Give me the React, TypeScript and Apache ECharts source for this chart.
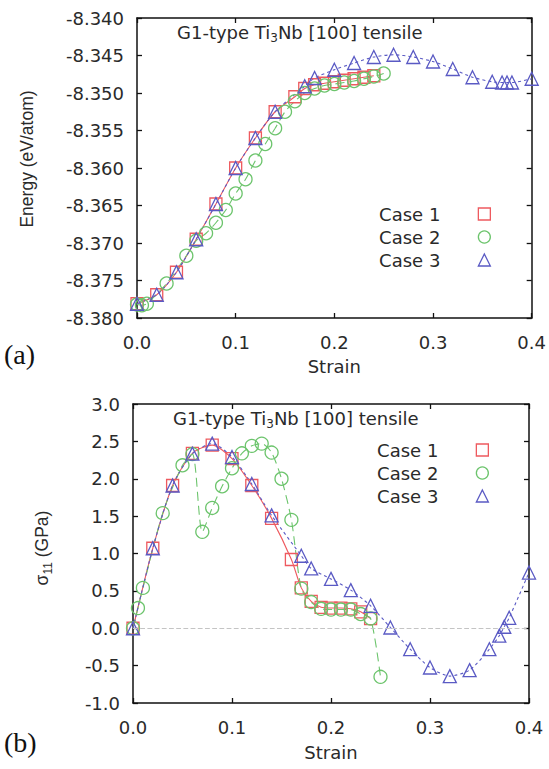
import React, { useEffect, useRef } from 'react';
import * as echarts from 'echarts';

// ---- Data ----
const strainCase1 = [0, 0.02, 0.04, 0.06, 0.08, 0.10, 0.12, 0.14, 0.16, 0.17, 0.18, 0.19, 0.20, 0.21, 0.22, 0.23, 0.24];
const energyCase1 = [-8.3781, -8.3769, -8.3739, -8.3695, -8.3648, -8.3600, -8.3560, -8.3525, -8.3505, -8.3494, -8.3489, -8.3487, -8.3485, -8.3483, -8.3481, -8.3479, -8.3477];
const stressCase1 = [0, 1.07, 1.91, 2.34, 2.45, 2.27, 1.91, 1.47, 0.92, 0.54, 0.36, 0.28, 0.27, 0.27, 0.26, 0.22, 0.13];

const strainCase2 = [0, 0.005, 0.01, 0.03, 0.05, 0.06, 0.07, 0.08, 0.09, 0.10, 0.11, 0.12, 0.13, 0.14, 0.15, 0.16, 0.17, 0.18, 0.19, 0.20, 0.21, 0.22, 0.23, 0.24, 0.25];
const energyCase2 = [-8.3782, -8.3783, -8.3781, -8.3754, -8.3717, -8.3697, -8.3687, -8.3673, -8.3656, -8.3634, -8.3615, -8.3590, -8.3568, -8.3547, -8.3525, -8.3511, -8.3500, -8.3494, -8.3490, -8.3488, -8.3486, -8.3484, -8.3481, -8.3478, -8.3474];
const stressCase2 = [0, 0.27, 0.54, 1.54, 2.18, 2.33, 1.29, 1.61, 1.90, 2.14, 2.34, 2.44, 2.47, 2.35, 2.00, 1.45, 0.53, 0.35, 0.26, 0.25, 0.25, 0.25, 0.19, 0.13, -0.65];

const strainCase3 = [0, 0.02, 0.04, 0.06, 0.08, 0.10, 0.12, 0.14, 0.17, 0.18, 0.20, 0.22, 0.24, 0.26, 0.28, 0.30, 0.32, 0.34, 0.36, 0.37, 0.375, 0.38, 0.40];
const energyCase3 = [-8.3781, -8.3769, -8.3739, -8.3695, -8.3648, -8.3600, -8.3560, -8.3525, -8.3491, -8.3480, -8.3469, -8.3460, -8.3452, -8.3449, -8.3452, -8.3458, -8.3468, -8.3479, -8.3485, -8.3486, -8.3486, -8.3486, -8.3481];
const stressCase3 = [0, 1.07, 1.91, 2.335, 2.47, 2.29, 1.93, 1.51, 0.97, 0.80, 0.66, 0.51, 0.30, 0.01, -0.28, -0.525, -0.64, -0.56, -0.28, -0.10, 0.02, 0.14, 0.745];

const caseNames = ['Case 1', 'Case 2', 'Case 3'];
const strainTicks = { min: 0, max: 0.4, interval: 0.1 };
const energyTicks = { min: -8.38, max: -8.34, interval: 0.005 };
const stressTicks = { min: -1, max: 3, interval: 0.5 };

const RED = '#ee5a5f';
const GREEN = '#6cc46c';
const BLUE = '#5a5ac4';
const FONT = 'DejaVu Sans';
const TXT = '#2a2a2a';

const pair = (xs: number[], ys: number[]) => xs.map((x, i) => [x, ys[i]]);

export default function App() {
  const ref = useRef<HTMLDivElement>(null);

  useEffect(() => {
    if (!ref.current) return;
    const chart = echarts.init(ref.current, null, { renderer: 'svg' });

    const grids = [
      { left: 137, right: 17, top: 18, height: 300 },
      { left: 133, right: 20, top: 404, height: 299 },
    ];

    const axisLine = { show: true, onZero: false, lineStyle: { color: '#111', width: 1.5 } };
    const tickIn = { show: true, inside: true, length: 5, lineStyle: { color: '#111', width: 1.3 } };

    const mainX = (gi: number, gap: number) => ({
      type: 'value', gridIndex: gi, position: 'bottom',
      ...strainTicks,
      axisLine, axisTick: tickIn, splitLine: { show: false },
      axisLabel: { margin: 15, fontFamily: FONT, fontSize: 18, color: TXT, formatter: (v: number) => v.toFixed(1) },
      name: 'Strain', nameLocation: 'middle', nameGap: gap,
      nameTextStyle: { fontFamily: FONT, fontSize: 18, color: TXT },
    });
    const mirrorX = (gi: number) => ({
      type: 'value', gridIndex: gi, position: 'top', ...strainTicks,
      axisLine, axisTick: tickIn, axisLabel: { show: false }, splitLine: { show: false },
    });
    const mainY = (gi: number, t: any, digits: number) => ({
      type: 'value', gridIndex: gi, position: 'left', ...t,
      axisLine, axisTick: tickIn, splitLine: { show: false },
      axisLabel: { margin: 13, fontFamily: FONT, fontSize: 18, color: TXT, formatter: (v: number) => v.toFixed(digits) },
    });
    const mirrorY = (gi: number, t: any) => ({
      type: 'value', gridIndex: gi, position: 'right', ...t,
      axisLine, axisTick: tickIn, axisLabel: { show: false }, splitLine: { show: false },
    });

    const mk = (name: string, data: number[][], xi: number, yi: number, color: string, symbol: string, size: number, dash: any, extra: any = {}) => ({
      type: 'line', name, data, xAxisIndex: xi, yAxisIndex: yi,
      symbol, symbolSize: size, showSymbol: true, smooth: 0.25,
      lineStyle: { color, width: 1.1, type: dash },
      itemStyle: { color: 'transparent', borderColor: color, borderWidth: 1.3 },
      emphasis: { disabled: true },
      ...extra,
    });

    const legendData = [
      { name: caseNames[0], icon: 'rect', itemStyle: { color: 'transparent', borderColor: RED, borderWidth: 1.3 } },
      { name: caseNames[1], icon: 'circle', itemStyle: { color: 'transparent', borderColor: GREEN, borderWidth: 1.3 } },
      { name: caseNames[2], icon: 'triangle', itemStyle: { color: 'transparent', borderColor: BLUE, borderWidth: 1.3 } },
    ];
    const legendBase = {
      orient: 'vertical', align: 'right', padding: 0, itemGap: 0,
      itemWidth: 12, itemHeight: 12, selectedMode: false,
      textStyle: { fontFamily: FONT, fontSize: 18, color: TXT, lineHeight: 23, padding: [0, 33, 0, 0] },
      data: legendData,
    };

    const titleRich = {
      b: { fontFamily: FONT, fontSize: 18, lineHeight: 24, fill: TXT, color: TXT },
      s: { fontFamily: FONT, fontSize: 12, lineHeight: 12, padding: [12, 0, 0, 0], fill: TXT, color: TXT },
    };
    const titleText = '{b|G1-type Ti}{s|3}{b|Nb [100] tensile}';

    chart.setOption({
      animation: false,
      grid: grids,
      xAxis: [mainX(0, 39), mirrorX(0), mainX(1, 40), mirrorX(1)],
      yAxis: [mainY(0, energyTicks, 3), mirrorY(0, energyTicks), mainY(1, stressTicks, 1), mirrorY(1, stressTicks)],
      legend: [
        { ...legendBase, right: 58, top: 202.5 },
        { ...legendBase, right: 60, top: 438.5 },
      ],
      series: [
        mk(caseNames[0], pair(strainCase1, energyCase1), 0, 0, RED, 'rect', 12, 'solid'),
        mk(caseNames[1], pair(strainCase2, energyCase2), 0, 0, GREEN, 'circle', 13, [9, 5]),
        mk(caseNames[2], pair(strainCase3, energyCase3), 0, 0, BLUE, 'triangle', 13, [3, 3]),
        mk(caseNames[0], pair(strainCase1, stressCase1), 2, 2, RED, 'rect', 12, 'solid', {
          markLine: {
            silent: true, symbol: 'none', label: { show: false },
            lineStyle: { color: '#c4c4c4', type: 'dashed', width: 1.2 },
            data: [{ yAxis: 0 }],
          },
        }),
        mk(caseNames[1], pair(strainCase2, stressCase2), 2, 2, GREEN, 'circle', 13, [9, 5]),
        mk(caseNames[2], pair(strainCase3, stressCase3), 2, 2, BLUE, 'triangle', 13, [3, 3]),
      ],
      graphic: [
        { type: 'text', x: 177, y: 32, style: { text: titleText, rich: titleRich, align: 'left', verticalAlign: 'middle' } },
        { type: 'text', x: 173, y: 418, style: { text: titleText, rich: titleRich, align: 'left', verticalAlign: 'middle' } },
        {
          type: 'text', x: 27, y: 159, rotation: Math.PI / 2,
          style: { text: 'Energy (eV/atom)', font: '17.5px "Liberation Sans"', fill: TXT, align: 'center', verticalAlign: 'middle' },
        },
        {
          type: 'text', x: 42, y: 548, rotation: Math.PI / 2,
          style: {
            text: '{b|σ}{s|11}{b| (GPa)}', align: 'center', verticalAlign: 'middle',
            rich: {
              b: { fontFamily: 'Liberation Sans', fontSize: 17.5, lineHeight: 24, fill: TXT },
              s: { fontFamily: 'Liberation Sans', fontSize: 12, lineHeight: 12, padding: [12, 0, 0, 0], fill: TXT },
            },
          },
        },
        { type: 'text', x: 4, y: 354, style: { text: '(a)', font: '28px "Liberation Serif"', fill: '#111', verticalAlign: 'middle' } },
        { type: 'text', x: 4, y: 742, style: { text: '(b)', font: '28px "Liberation Serif"', fill: '#111', verticalAlign: 'middle' } },
      ],
    });

    return () => chart.dispose();
  }, []);

  return <div ref={ref} style={{ position: 'fixed', left: 0, top: 0, width: 549, height: 769, background: '#fff' }} />;
}
